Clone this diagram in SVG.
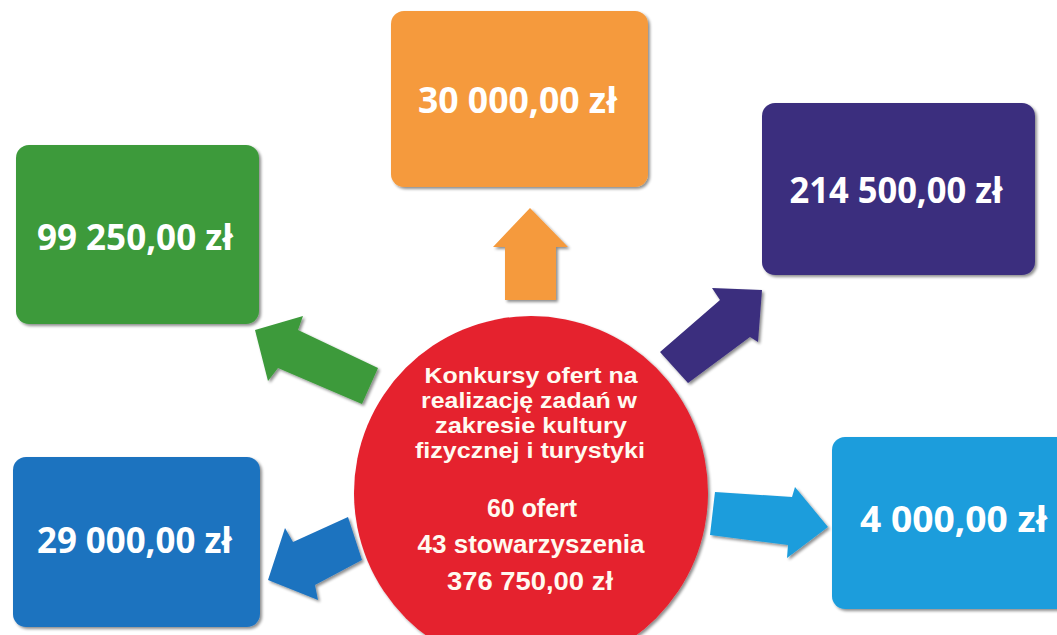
<svg xmlns="http://www.w3.org/2000/svg" width="1057" height="635" viewBox="0 0 1057 635">
<defs>
<filter id="sh" x="-10%" y="-10%" width="125%" height="125%">
<feGaussianBlur in="SourceAlpha" stdDeviation="1.5"/>
<feOffset dx="1.5" dy="2" result="b"/>
<feComponentTransfer><feFuncA type="linear" slope="0.45"/></feComponentTransfer>
<feMerge><feMergeNode/><feMergeNode in="SourceGraphic"/></feMerge>
</filter>
<style>
.box{filter:url(#sh)}
.val{font-family:"Open Sans","Liberation Sans",sans-serif;font-weight:bold;font-size:35px;fill:#ffffff;text-anchor:middle}
.ctr{font-family:"Liberation Sans",Arial,sans-serif;font-weight:bold;font-size:22px;fill:#fffaf0;text-anchor:middle}
.big{font-size:25px}
.arr{filter:url(#sh)}
</style>
</defs>
<rect width="1057" height="635" fill="#ffffff"/>
<g id="connectors">
<polygon class="arr" fill="#f59a3c" points="530,208 568,247 556,247 556,300 505,300 505,247 493,247"/>
<polygon class="arr" fill="#3c9a3a" points="255,330 303,316 298,330 378,368 362,404 278,368 268,381"/>
<polygon class="arr" fill="#3b2f7e" points="762,290 758,342 750,337 688,383 660,352 720,300 712,288"/>
<polygon class="arr" fill="#1f73bf" points="268,580 285,528 293,542 348,517 362,560 315,585 318,600"/>
<polygon class="arr" fill="#1d9ddc" points="715,492 792,497 795,487 828,527 787,558 788,545 710,535"/>
</g>
<g id="node-green">
<rect class="box" x="16" y="145" width="243" height="179" rx="13" fill="#3c9a3a"/>
<text class="val" x="135" y="250" textLength="196" lengthAdjust="spacingAndGlyphs">99 250,00 zł</text>
</g>
<g id="node-orange">
<rect class="box" x="391" y="11" width="257" height="176" rx="13" fill="#f59a3c"/>
<text class="val" x="517.5" y="113" textLength="199" lengthAdjust="spacingAndGlyphs">30 000,00 zł</text>
</g>
<g id="node-purple">
<rect class="box" x="762" y="103" width="273" height="172" rx="13" fill="#3b2f7e"/>
<text class="val" x="896" y="203" textLength="213" lengthAdjust="spacingAndGlyphs">214 500,00 zł</text>
</g>
<g id="node-blue">
<rect class="box" x="13" y="457" width="247" height="170" rx="13" fill="#1f73bf"/>
<text class="val" x="134.5" y="553" textLength="195" lengthAdjust="spacingAndGlyphs">29 000,00 zł</text>
</g>
<g id="node-lightblue">
<rect class="box" x="832" y="437" width="240" height="172" rx="13" fill="#1d9ddc"/>
<text class="val" x="953.5" y="532" textLength="187" lengthAdjust="spacingAndGlyphs">4 000,00 zł</text>
</g>
<g id="node-center">
<circle class="box" cx="531" cy="493" r="177" fill="#e5202e"/>
<text class="ctr" x="531" y="383" textLength="213" lengthAdjust="spacingAndGlyphs">Konkursy ofert na</text>
<text class="ctr" x="529" y="408" textLength="216" lengthAdjust="spacingAndGlyphs">realizację zadań w</text>
<text class="ctr" x="531" y="433" textLength="192" lengthAdjust="spacingAndGlyphs">zakresie kultury</text>
<text class="ctr" x="530" y="458" textLength="230" lengthAdjust="spacingAndGlyphs">fizycznej i turystyki</text>
<text class="ctr big" x="532" y="517" textLength="90" lengthAdjust="spacingAndGlyphs">60 ofert</text>
<text class="ctr big" x="531" y="553" textLength="227" lengthAdjust="spacingAndGlyphs">43 stowarzyszenia</text>
<text class="ctr big" x="530" y="590" textLength="166" lengthAdjust="spacingAndGlyphs">376 750,00 zł</text>
</g>
</svg>
